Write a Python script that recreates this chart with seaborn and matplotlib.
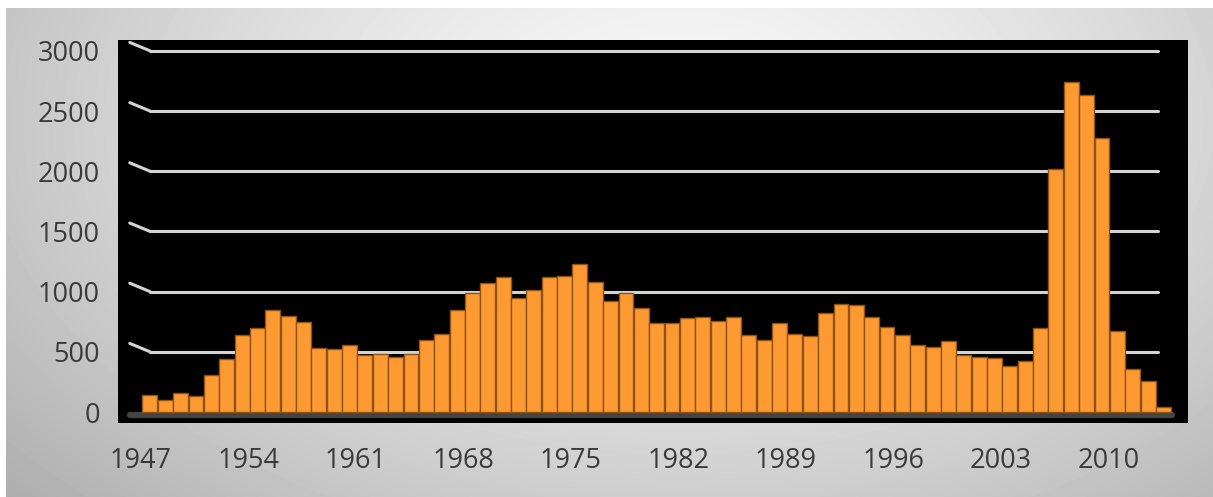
import numpy as np
import pandas as pd
import matplotlib
matplotlib.use("Agg")
import matplotlib.pyplot as plt
import matplotlib.transforms as mtrans
import seaborn as sns

years = list(range(1947, 2014))
values = [140, 100, 160, 130, 310, 440, 640, 700, 850, 800,
          750, 530, 520, 560, 470, 480, 460, 480, 600, 650,
          850, 990, 1070, 1120, 950, 1010, 1120, 1130, 1230, 1080,
          920, 990, 860, 740, 740, 780, 790, 760, 790, 640,
          600, 740, 650, 630, 820, 900, 890, 790, 710, 640,
          560, 540, 590, 470, 460, 450, 380, 420, 700, 2020,
          2740, 2630, 2280, 670, 360, 260, 40]
yticks = [0, 500, 1000, 1500, 2000, 2500, 3000]
label_step = 7

df = pd.DataFrame({"year": [str(y) for y in years], "value": values})

sns.set_theme(style="white")
plt.rcParams["font.family"] = ["Open Sans", "DejaVu Sans"]

W, H = 1213, 497
fig = plt.figure(figsize=(W / 100, H / 100), dpi=100)

# background gradient
bg = fig.add_axes([0, 0, 1, 1], zorder=-10)
yy, xx = np.mgrid[0:H, 0:W]
r = np.sqrt(((xx - 680) / 1.0) ** 2 + ((yy - 120) * 1.6) ** 2)
g = 0.97 - 0.21 * np.clip(r / 720, 0, 1.3) ** 1.4
g[:8, :] = 1.0
g[:, :6] = 1.0
bg.imshow(g, cmap="gray", vmin=0, vmax=1, aspect="auto", extent=[0, W, H, 0])
bg.set_xlim(0, W)
bg.set_ylim(H, 0)
bg.axis("off")

ax = fig.add_axes([118 / W, (H - 423) / H, 1070 / W, 383 / H])
ax.set_facecolor("black")

sns.barplot(data=df, x="year", y="value", ax=ax, color="#FF9A33",
            saturation=1, width=0.97, edgecolor="#8f5316", linewidth=1.0,
            zorder=3)

ax.set_xlim(-2.08, 67.6)
ax.set_ylim(-91, 3090)

blend = mtrans.blended_transform_factory(ax.transAxes, ax.transData)
for v in yticks[1:]:
    ax.plot([0.030, 0.972], [v, v], transform=blend, color="#d4d4d4",
            lw=2.2, zorder=1, solid_capstyle="round")
    ax.plot([0.011, 0.030], [v + 70, v], transform=blend, color="#d4d4d4",
            lw=2.2, zorder=1, solid_capstyle="round")
# floor
ax.plot([0.011, 0.985], [-22, -22], transform=blend, color="#444444",
        lw=4.5, zorder=2)

ax.set_yticks(yticks)
ax.set_yticklabels([str(v) for v in yticks])
ticks_pos = list(range(0, len(years), label_step))
ax.set_xticks(ticks_pos)
ax.set_xticklabels([str(years[i]) for i in ticks_pos])
ax.tick_params(axis="both", length=0, labelsize=19.5, colors="#3a3a3a")
ax.tick_params(axis="y", pad=13)
ax.tick_params(axis="x", pad=17)
off = mtrans.ScaledTranslation(-9 / 100, 0, fig.dpi_scale_trans)
for lab in ax.get_xticklabels():
    lab.set_transform(lab.get_transform() + off)
ax.set_xlabel("")
ax.set_ylabel("")
for s in ax.spines.values():
    s.set_visible(False)

fig.savefig("out.png", dpi=100)
